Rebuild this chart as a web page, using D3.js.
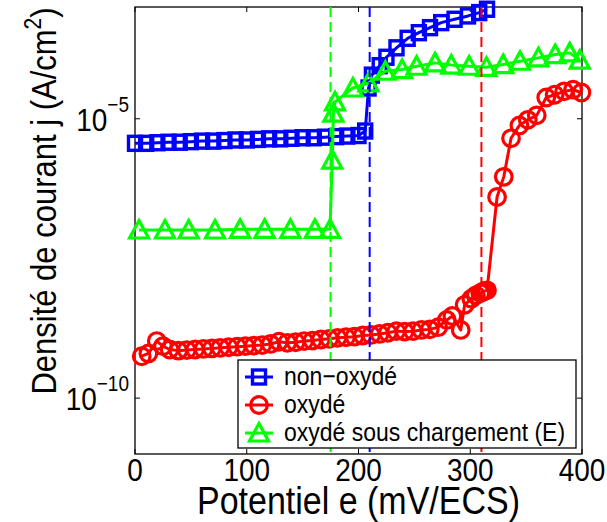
<!DOCTYPE html>
<html>
<head>
<meta charset="utf-8">
<script src="https://cdn.jsdelivr.net/npm/d3@7"></script>
<style>
  html, body { margin: 0; padding: 0; background: #fff; }
  svg { display: block; font-family: "Liberation Sans", Arial, Helvetica, sans-serif; }
</style>
</head>
<body>
<svg id="chart" width="607" height="522"></svg>
<script>
// ---------- data (potential e in mV/ECS, current density j in A/cm^2) ----------
const seriesNames = ["non\u2212oxydé", "oxydé", "oxydé sous chargement (E)"];
const seriesColors = ["#0000ff", "#ff0000", "#00ff00"];

const blueE = [0,10,20,30,40,50,60,70,80,90,100,110,120,130,140,150,160,170,180,190,200,
  206,209,212,219,225,234,244,254,264,274,286,298,308,315];
const blueJ = [3.63e-6,3.63e-6,3.72e-6,3.80e-6,3.80e-6,3.89e-6,3.98e-6,3.98e-6,4.07e-6,4.17e-6,4.17e-6,
  4.27e-6,4.37e-6,4.37e-6,4.47e-6,4.57e-6,4.57e-6,4.68e-6,4.79e-6,4.90e-6,5.01e-6,
  6.03e-6,3.55e-5,6.03e-5,8.91e-5,1.26e-4,1.86e-4,2.75e-4,3.47e-4,4.27e-4,5.25e-4,6.03e-4,6.92e-4,7.94e-4,9.12e-4];

const redE = [6,12,19.5,25,31,38.8,46.3,53.8,61.3,68.8,76.3,83.8,91.3,98.8,106.3,113.8,121.3,128.8,136.3,143.8,
  151.3,158.8,166.3,173.8,181.3,188.8,196.3,203.8,211.3,218.8,226.3,233.8,241.3,248.8,256.3,263.8,271.3,
  279,284,291.5,295,301,305,309,311,313,315,324,330,336.5,344,351.5,359.5,368,375.5,384,392,399.5];
const redJ = [5.62e-10,6.31e-10,1.05e-9,8.51e-10,7.41e-10,7.08e-10,7.24e-10,7.41e-10,7.59e-10,7.76e-10,7.94e-10,
  8.13e-10,8.32e-10,8.51e-10,8.71e-10,8.91e-10,9.33e-10,1.02e-9,9.77e-10,1.00e-9,
  1.05e-9,1.07e-9,1.12e-9,1.15e-9,1.20e-9,1.23e-9,1.26e-9,1.32e-9,1.35e-9,1.41e-9,1.48e-9,1.58e-9,1.55e-9,
  1.58e-9,1.66e-9,1.70e-9,1.86e-9,2.51e-9,2.95e-9,1.66e-9,4.68e-9,6.03e-9,6.92e-9,7.59e-9,7.94e-9,8.32e-9,8.51e-9,
  3.98e-7,9.12e-7,4.47e-6,7.59e-6,9.55e-6,1.15e-5,2.40e-5,2.69e-5,3.09e-5,3.31e-5,2.95e-5];

const greenE = [3.6,26.8,48,71.6,94,116,139,161,174.5,176.5,177.5,179,195,209,224,239,252,268.5,283,299,
  314.5,329.5,344.5,361,376,389,398];
const greenJ = [1.02e-7,1.02e-7,1.02e-7,1.02e-7,1.05e-7,1.05e-7,1.05e-7,1.05e-7,1.05e-7,1.82e-6,1.26e-5,2.00e-5,
  3.55e-5,4.37e-5,7.08e-5,7.59e-5,8.71e-5,1.00e-4,9.12e-5,8.71e-5,8.32e-5,9.33e-5,1.07e-4,1.23e-4,1.41e-4,1.51e-4,1.12e-4];

const thresholdE = [175, 210, 310];               // dashed verticals (green, blue, red)
const thresholdColors = ["#00ff00", "#0000ff", "#ff0000"];

const xTicks = [0, 100, 200, 300, 400];
const yTickExponents = [-10, -5];
const xDomain = [0, 400];
const yDomain = [1e-11, 1e-3];
const xLabel = "Potentiel e (mV/ECS)";
const yLabelMain = "Densité de courant j (A/cm";
const yLabelSup = "2";
const yLabelEnd = ")";

// ---------- layout ----------
const svg = d3.select("#chart");
const L = 135, R = 582, T = 7, B = 454;
const SY = 1.12;   // glyphs of the reference look slightly taller than wide
const x = d3.scaleLinear().domain(xDomain).range([L, R]);
const y = d3.scaleLog().domain(yDomain).range([B, T]);

const series = [
  { e: blueE, j: blueJ, marker: "square" },
  { e: redE, j: redJ, marker: "circle" },
  { e: greenE, j: greenJ, marker: "triangle" }
].map((s, i) => ({ ...s, name: seriesNames[i], color: seriesColors[i],
  pts: s.e.map((v, k) => [v, s.j[k]]) }));

function drawMarker(g, type, cx, cy, color) {
  if (type === "square") {
    g.append("rect").attr("x", cx - 6.5).attr("y", cy - 7).attr("width", 13).attr("height", 14)
      .attr("fill", "none").attr("stroke", color).attr("stroke-width", 3.4);
  } else if (type === "circle") {
    g.append("circle").attr("cx", cx).attr("cy", cy).attr("r", 8.3)
      .attr("fill", "none").attr("stroke", color).attr("stroke-width", 3.2);
  } else {
    g.append("path").attr("d", `M${cx},${cy - 9.5}L${cx + 9.5},${cy + 8}L${cx - 9.5},${cy + 8}Z`)
      .attr("fill", "none").attr("stroke", color).attr("stroke-width", 3.2).attr("stroke-linejoin", "miter");
  }
}

function addText(parent, tx, ty, str, size, anchor, rot) {
  const g = parent.append("g")
    .attr("transform", `translate(${tx},${ty})` + (rot ? ` rotate(${rot})` : "") + ` scale(1,${SY})`);
  const t = g.append("text").attr("text-anchor", anchor || "start").attr("font-size", size);
  if (str !== null) t.text(str);
  return t;
}

// axes frame
svg.append("rect").attr("x", L).attr("y", T).attr("width", R - L).attr("height", B - T)
  .attr("fill", "#fff").attr("stroke", "#000").attr("stroke-width", 1.3);

// ticks (inside, on both sides)
const tk = svg.append("g").attr("stroke", "#000").attr("stroke-width", 1);
xTicks.forEach(t => {
  tk.append("line").attr("x1", x(t)).attr("x2", x(t)).attr("y1", B).attr("y2", B - 5);
  tk.append("line").attr("x1", x(t)).attr("x2", x(t)).attr("y1", T).attr("y2", T + 5);
});
yTickExponents.forEach(p => {
  const v = Math.pow(10, p);
  tk.append("line").attr("x1", L).attr("x2", L + 5).attr("y1", y(v)).attr("y2", y(v));
  tk.append("line").attr("x1", R).attr("x2", R - 5).attr("y1", y(v)).attr("y2", y(v));
});

// series
const line = d3.line().x(d => x(d[0])).y(d => y(d[1]));
series.forEach(s => {
  const g = svg.append("g");
  g.append("path").attr("d", line(s.pts)).attr("fill", "none")
    .attr("stroke", s.color).attr("stroke-width", 3).attr("stroke-linejoin", "round");
  s.pts.forEach(p => drawMarker(g, s.marker, x(p[0]), y(p[1]), s.color));
});

// dashed thresholds
thresholdE.forEach((e, i) => {
  svg.append("line").attr("x1", x(e)).attr("x2", x(e)).attr("y1", T).attr("y2", B)
    .attr("stroke", thresholdColors[i]).attr("stroke-width", 2).attr("stroke-dasharray", "10,5");
});

// x tick labels
xTicks.forEach(t => addText(svg, x(t), 481, String(t), 28, "middle"));

// y tick labels 10^p
yTickExponents.forEach(p => {
  const ty = y(Math.pow(10, p));
  const t = addText(svg, 129, ty + 12, null, 28, "end");
  t.append("tspan").text("10");
  t.append("tspan").attr("font-size", 19).attr("dy", -17).text("\u2212" + Math.abs(p));
});

// axis labels
addText(svg, (L + R) / 2, 513.5, xLabel, 34, "middle");
const yl = addText(svg, 56, 201, null, 31, "middle", -90);
yl.append("tspan").text(yLabelMain);
yl.append("tspan").attr("font-size", 21).attr("dy", -13).text(yLabelSup);
yl.append("tspan").attr("dy", 13).text(yLabelEnd);

// legend
const lg = svg.append("g");
lg.append("rect").attr("x", 238).attr("y", 360).attr("width", 338).attr("height", 88)
  .attr("fill", "#fff").attr("stroke", "#000").attr("stroke-width", 1.3);
const rowY = [377, 405, 433];
series.forEach((s, i) => {
  lg.append("line").attr("x1", 245).attr("x2", 273).attr("y1", rowY[i]).attr("y2", rowY[i])
    .attr("stroke", s.color).attr("stroke-width", 3);
  drawMarker(lg, s.marker, 259, rowY[i], s.color);
  addText(lg, 284, rowY[i] + 8, s.name, 23, "start");
});
</script>
</body>
</html>
